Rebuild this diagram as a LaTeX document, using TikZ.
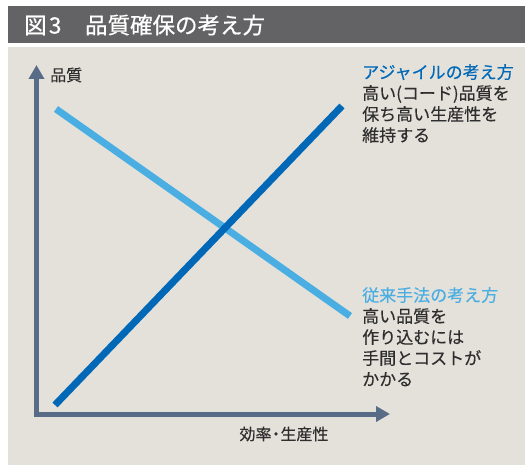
\documentclass[tikz,border=0pt]{standalone}
\usepackage{fontspec}
\setmainfont{Noto Sans CJK JP}
\usetikzlibrary{arrows.meta}
\definecolor{titlebg}{HTML}{636365}
\definecolor{panelbg}{HTML}{E4E1DA}
\definecolor{axiscol}{HTML}{586C88}
\definecolor{agile}{HTML}{0068B7}
\definecolor{trad}{HTML}{4BAEE3}
\definecolor{txt}{HTML}{2E2E2E}
\tikzset{
  axis/.style={draw=axiscol, line width=5pt, line join=miter,
    {Triangle[length=14pt,width=15pt]}-{Triangle[length=14pt,width=15pt]}},
  trend/.style={line width=7pt, line cap=butt},
  lbl/.style={inner sep=0pt, text=txt, font=\fontsize{17}{21}\selectfont\addfontfeatures{FakeBold=0.3}, align=left},
  axlbl/.style={inner sep=0pt, text=txt, font=\fontsize{16}{20}\selectfont\addfontfeatures{FakeBold=0.3}},
}
\begin{document}
\begin{tikzpicture}[x=1pt,y=-1pt]
\useasboundingbox (0,0) rectangle (525,465);
\fill[white] (0,0) rectangle (525,465);
\fill[titlebg] (8,6) rectangle (525,43);
\fill[panelbg] (8,47) rectangle (525,465);
\node[anchor=west, inner sep=0pt, text=white, font=\fontsize{22.5}{24}\selectfont\addfontfeatures{FakeBold=0.6}] (title) at (24,25) {図\hspace{0.1em}3\hspace{1.05em}品質確保の考え方};
% axes
\coordinate (ytip) at (36.5,65);
\coordinate (o) at (36.5,414);
\coordinate (xtip) at (390,414);
\draw[axis] (ytip) -- (o) -- (xtip);
\node[axlbl, anchor=west] (ylbl) at (50,75) {品質};
\node[axlbl] (xlbl) at (284,434) {効率\hspace{-0.22em}・\hspace{-0.22em}生産性};
% trend lines
\coordinate (a1) at (55,405);
\coordinate (a2) at (342,106);
\coordinate (t1) at (56,109);
\coordinate (t2) at (350,316);
\draw[trend, trad] (t1) -- (t2);
\draw[trend, agile] (a1) -- (a2);
% labels
\node[lbl, anchor=north west] (agilelbl) at (362,64) {\textcolor{agile}{アジャイルの考え方}\\高い(コード)品質を\\保ち高い生産性を\\維持する};
\node[lbl, anchor=north west] (tradlbl) at (362,287) {\textcolor{trad}{従来手法の考え方}\\高い品質を\\作り込むには\\手間とコストが\\かかる};
\end{tikzpicture}
\end{document}
